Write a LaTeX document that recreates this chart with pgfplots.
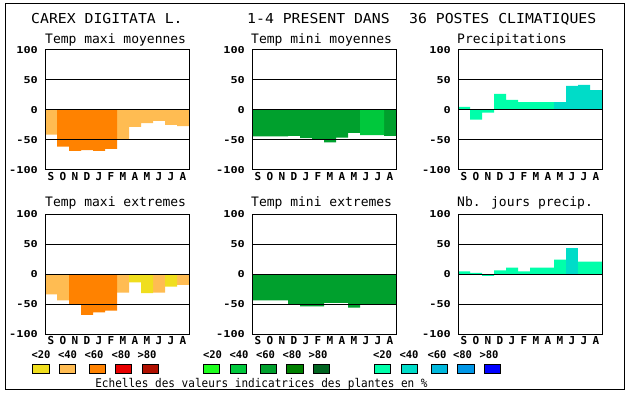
\documentclass[border=0pt]{standalone}
\usepackage{pgfplots}
\pgfplotsset{compat=1.18}
\usepackage{fontspec}
\setmainfont{DejaVu Sans Mono}
\newfontfamily\tfont[FakeStretch=1.08]{DejaVu Sans Mono}
\newfontfamily\pfont{DejaVu Sans Mono}
\newfontfamily\tickf[FakeStretch=1.25]{DejaVu Sans Mono Bold}
\newfontfamily\monf{DejaVu Sans Mono Bold}
\newfontfamily\capf[FakeStretch=0.92]{DejaVu Sans Mono}

\definecolor{oc1}{RGB}{240,222,30}
\definecolor{oc2}{RGB}{255,188,82}
\definecolor{oc3}{RGB}{255,130,0}
\definecolor{oc4}{RGB}{232,0,0}
\definecolor{oc5}{RGB}{176,16,0}
\definecolor{gc1}{RGB}{30,255,30}
\definecolor{gc2}{RGB}{0,200,60}
\definecolor{gc3}{RGB}{0,160,45}
\definecolor{gc4}{RGB}{0,128,0}
\definecolor{gc5}{RGB}{0,100,32}
\definecolor{bc1}{RGB}{0,255,170}
\definecolor{bc2}{RGB}{0,220,200}
\definecolor{bc3}{RGB}{0,184,220}
\definecolor{bc4}{RGB}{0,150,230}
\definecolor{bc5}{RGB}{0,0,255}

\pgfplotsset{
  panel/.style={
    scale only axis, width=144bp, height=120bp, anchor=south west,
    xmin=0, xmax=12, ymin=-100, ymax=100,
    xtick={0.5,1.5,2.5,3.5,4.5,5.5,6.5,7.5,8.5,9.5,10.5,11.5},
    xticklabels={S,O,N,D,J,F,M,A,M,J,J,A},
    ytick={-100,-50,0,50,100},
    ymajorgrids, grid style={black, line width=1bp},
    axis line style={line width=1bp},
    axis on top, major tick length=0pt,
    /pgf/number format/assume math mode=true,
    yticklabel style={font=\tickf\fontsize{9.5bp}{10bp}\selectfont, anchor=east, inner sep=0pt, xshift=-7bp},
    xticklabel style={font=\monf\fontsize{11bp}{12bp}\selectfont, anchor=north, inner sep=0pt, yshift=-2.5bp},
  },
  bars/.style={ybar, bar width=1, bar shift=0pt, draw=none, fill=#1},
}

\begin{document}
\begin{tikzpicture}[x=1bp,y=1bp]
\useasboundingbox (0,0) rectangle (630,394);
\draw[line width=1bp] (5,5) rectangle (624,390);

% titles
\node[anchor=base west, inner sep=0pt, font=\tfont\fontsize{13.7bp}{14bp}\selectfont] at (31,371) {CAREX DIGITATA L.};
\node[anchor=base west, inner sep=0pt, font=\tfont\fontsize{13.7bp}{14bp}\selectfont] at (247,371) {1-4 PRESENT DANS};
\node[anchor=base west, inner sep=0pt, font=\tfont\fontsize{13.7bp}{14bp}\selectfont] at (409,371) {36 POSTES CLIMATIQUES};

\foreach \xx/\tt in {45/Temp maxi moyennes, 251/Temp mini moyennes, 457/Precipitations}
  \node[anchor=base west, inner sep=0pt, font=\pfont\fontsize{13bp}{14bp}\selectfont] at (\xx,350.7) {\tt};
\foreach \xx/\tt in {45/Temp maxi extremes, 251/Temp mini extremes, 457/Nb. jours precip.}
  \node[anchor=base west, inner sep=0pt, font=\pfont\fontsize{13bp}{14bp}\selectfont] at (\xx,187.3) {\tt};

% Panel 1: Temp maxi moyennes
\begin{axis}[panel, at={(45bp,224bp)}]
\addplot[bars=oc2] coordinates {(0.5,-41) (6.5,-50) (7.5,-28) (8.5,-22) (9.5,-18) (10.5,-25) (11.5,-27)};
\addplot[bars=oc3] coordinates {(1.5,-61) (2.5,-68) (3.5,-67) (4.5,-68) (5.5,-65)};
\end{axis}

% Panel 2: Temp mini moyennes
\begin{axis}[panel, at={(252bp,224bp)}]
\addplot[bars=gc3] coordinates {(0.5,-44) (1.5,-44) (2.5,-44) (3.5,-43) (4.5,-47) (5.5,-48) (6.5,-54) (7.5,-46) (8.5,-38) (11.5,-43)};
\addplot[bars=gc2] coordinates {(9.5,-42) (10.5,-42)};
\end{axis}

% Panel 3: Precipitations
\begin{axis}[panel, at={(458bp,224bp)}]
\addplot[bars=bc1] coordinates {(0.5,5) (1.5,-16) (2.5,-4.5) (3.5,27) (4.5,17) (5.5,13) (6.5,13) (7.5,13)};
\addplot[bars=bc2] coordinates {(8.5,13) (9.5,40) (10.5,42) (11.5,33)};
\end{axis}

% Panel 4: Temp maxi extremes
\begin{axis}[panel, at={(45bp,60bp)}]
\addplot[bars=oc2] coordinates {(0.5,-34) (1.5,-44) (6.5,-31) (9.5,-31) (11.5,-18)};
\addplot[bars=oc3] coordinates {(2.5,-50) (3.5,-68) (4.5,-64) (5.5,-61)};
\addplot[bars=oc1] coordinates {(7.5,-14) (8.5,-32) (10.5,-21)};
\end{axis}

% Panel 5: Temp mini extremes
\begin{axis}[panel, at={(252bp,60bp)}]
\addplot[bars=gc3] coordinates {(0.5,-44) (1.5,-44) (2.5,-44) (3.5,-50) (4.5,-54) (5.5,-54) (6.5,-48) (7.5,-48) (8.5,-56) (9.5,-50) (10.5,-50) (11.5,-50)};
\end{axis}

% Panel 6: Nb. jours precip.
\begin{axis}[panel, at={(458bp,60bp)}]
\addplot[bars=bc1] coordinates {(0.5,4.4) (1.5,2) (2.5,-3) (3.5,6) (4.5,10.5) (5.5,4.4) (6.5,10.5) (7.5,10.5) (8.5,24) (10.5,20.5) (11.5,20.5)};
\addplot[bars=bc2] coordinates {(9.5,44)};
\end{axis}

% colour scales
\foreach \lx/\bx/\lab/\col in {41/41/<20/oc1, 67.5/67.5/<40/oc2, 94/97.5/<60/oc3, 121/123.5/<80/oc4, 147/150.5/>80/oc5,
  212.5/211.5/<20/gc1, 239/238.5/<40/gc2, 265.5/268.5/<60/gc3, 292/295/<80/gc4, 318/321.5/>80/gc5,
  382.5/382.5/<20/bc1, 409/409.5/<40/bc2, 437/439.5/<60/bc3, 462.5/466/<80/bc4, 489/492.5/>80/bc5} {
  \node[anchor=base, inner sep=0pt, font=\monf\fontsize{10.5bp}{11bp}\selectfont] at (\lx,36) {\lab};
  \draw[fill=\col, line width=0.8bp] (\bx-8.3,21) rectangle (\bx+8.3,30);
}
\node[anchor=base, inner sep=0pt, font=\capf\fontsize{12bp}{13bp}\selectfont] at (261.5,7) {Echelles des valeurs indicatrices des plantes en \%};
\end{tikzpicture}
\end{document}
